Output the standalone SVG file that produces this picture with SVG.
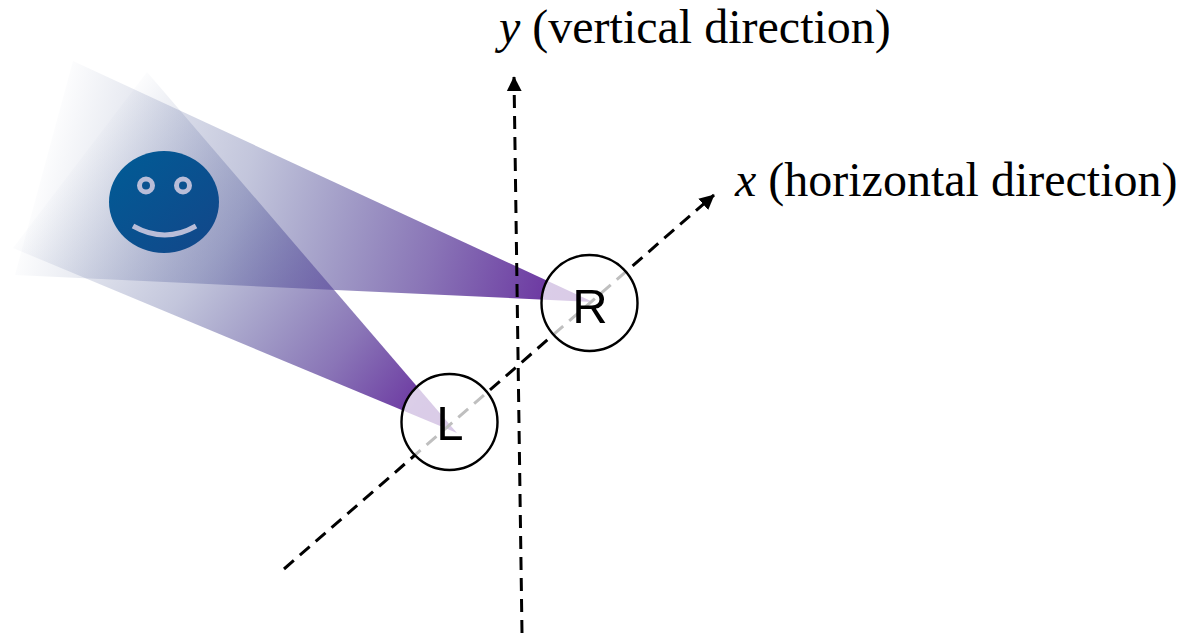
<svg xmlns="http://www.w3.org/2000/svg" width="1186" height="635" viewBox="0 0 1186 635">
<style>
.axis{fill:none;stroke:#000;stroke-width:3;stroke-dasharray:13 8}
.ring{fill:#fff;fill-opacity:.75;stroke:#000;stroke-width:2.400}
.lab{font-family:"Liberation Serif",serif;font-size:48px;fill:#000}
.cap{font-family:"Liberation Sans",sans-serif;font-size:49px;fill:#000;text-anchor:middle}
.eye{fill:#0a5290;stroke:#b9bdd8;stroke-width:5}
</style>
<defs>
<marker id="arrow" viewBox="0 0 10 10" refX="9.500" refY="5" markerWidth="5" markerHeight="5.400" orient="auto" markerUnits="strokeWidth"><path d="M0 0L10 5L0 10Z" fill="#000"/></marker>
<linearGradient id="gr" gradientUnits="userSpaceOnUse" x1="44" y1="168" x2="589" y2="316">
<stop offset="0" stop-color="#1f3a7c" stop-opacity=".015"/>
<stop offset=".35" stop-color="#37408a" stop-opacity=".3"/>
<stop offset=".7" stop-color="#583a98" stop-opacity=".7"/>
<stop offset=".92" stop-color="#6a34a0" stop-opacity=".98"/>
<stop offset="1" stop-color="#6a2fa0" stop-opacity="1"/>
</linearGradient>
<linearGradient id="gl" gradientUnits="userSpaceOnUse" x1="80" y1="160" x2="450" y2="442">
<stop offset="0" stop-color="#1f3a7c" stop-opacity=".015"/>
<stop offset=".35" stop-color="#37408a" stop-opacity=".3"/>
<stop offset=".7" stop-color="#583a98" stop-opacity=".7"/>
<stop offset=".9" stop-color="#6a34a0" stop-opacity=".98"/>
<stop offset="1" stop-color="#6a2fa0" stop-opacity="1"/>
</linearGradient>
<linearGradient id="gf" x1="0" y1="0" x2="1" y2="1">
<stop offset="0" stop-color="#005c96"/>
<stop offset="1" stop-color="#134689"/>
</linearGradient>
</defs>
<g id="fields">
<path d="M73 61L15 275L593 302Z" fill="url(#gr)"/>
<path d="M147 72L13 248L457 433Z" fill="url(#gl)"/>
</g>
<g id="connectors">
<path class="axis" d="M284 569L714 195" marker-end="url(#arrow)"/>
<path class="axis" d="M522 633L514 77" marker-end="url(#arrow)"/>
</g>
<g id="face">
<ellipse cx="164" cy="202" rx="55" ry="51" fill="url(#gf)"/>
<circle class="eye" cx="146" cy="185.500" r="6.500"/>
<circle class="eye" cx="183" cy="185.500" r="6.500"/>
<path d="M133 226Q165 244 196 226" fill="none" stroke="#b9bdd8" stroke-width="5"/>
</g>
<g id="node-R">
<circle class="ring" cx="589.500" cy="303" r="48"/>
<text class="cap" x="590" y="323">R</text>
</g>
<g id="node-L">
<circle class="ring" cx="449.500" cy="422" r="48"/>
<text class="cap" x="450" y="440">L</text>
</g>
<text class="lab" x="499" y="43"><tspan font-style="italic">y</tspan> (vertical direction)</text>
<text class="lab" x="735" y="196"><tspan font-style="italic">x</tspan> (horizontal direction)</text>
</svg>
